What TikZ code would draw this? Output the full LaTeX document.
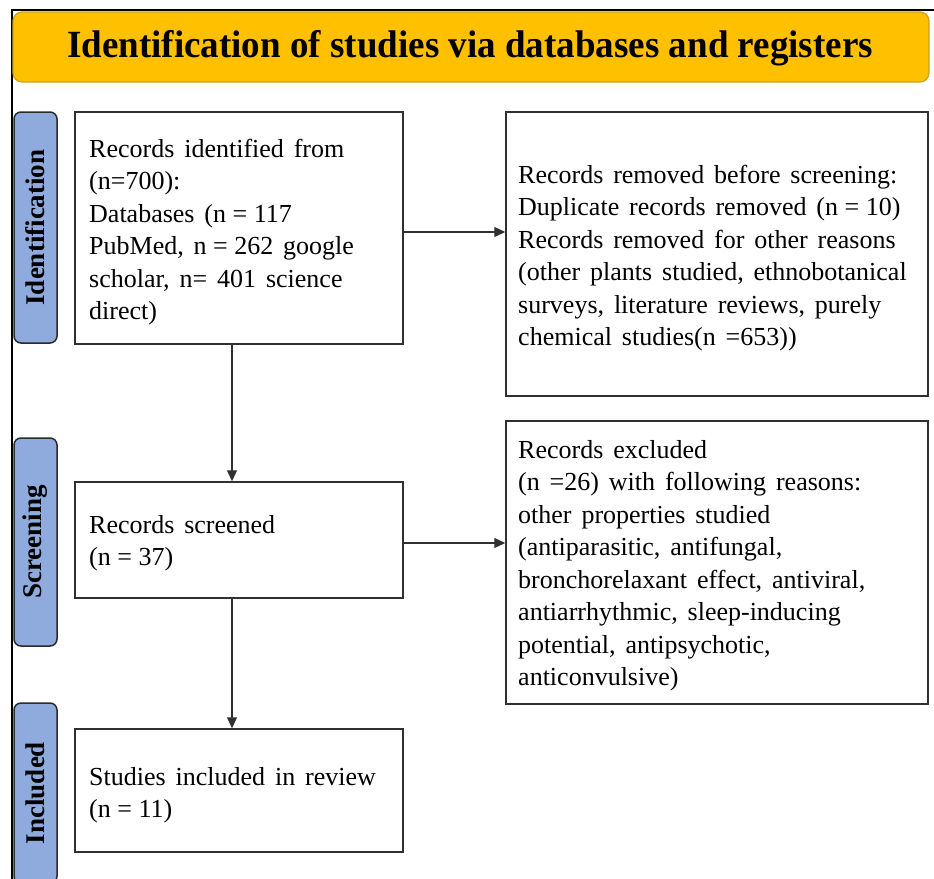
\documentclass[tikz,border=0pt]{standalone}
\usepackage{fontspec}
\setmainfont{Liberation Serif}
\usetikzlibrary{arrows.meta}
\definecolor{gold}{HTML}{FFC000}
\definecolor{golddraw}{HTML}{C9A227}
\definecolor{lblue}{HTML}{8FAADC}
\definecolor{bluedraw}{HTML}{2A2A2A}
\definecolor{boxline}{HTML}{303030}
\newcommand\myBodyFont{\fontsize{26}{32.5}\selectfont\setlength{\spaceskip}{0.38em}}
\newcommand\myEq{\hspace{0.25em}=\hspace{0.25em}}
\begin{document}
\begin{tikzpicture}[x=1pt,y=-1pt,
  banner/.style={draw=golddraw, fill=gold, line width=1.2pt, rounded corners=9pt, minimum width=916pt, minimum height=70pt, inner sep=0pt},
  phase/.style={draw=bluedraw, fill=lblue, line width=1.5pt, rounded corners=7pt, minimum height=43pt, inner sep=0pt, rotate=90, font=\fontsize{27}{30}\selectfont\bfseries},
  box/.style={draw=boxline, line width=1.5pt, inner sep=0pt},
  txt/.style={anchor=base west, align=left, inner sep=0pt, font=\myBodyFont},
  arr/.style={draw=boxline, line width=1.1pt, -{Triangle[length=11pt,width=10pt]}}
]
\useasboundingbox (0,0) rectangle (934,878);
\clip (0,0) rectangle (934,878);
\fill[white] (0,0) rectangle (934,878);
\draw[line width=2pt] (12,880) -- (12,10) -- (936,10);
\node[banner] (ban) at (471,47) {};
\node[anchor=base, inner sep=0pt, font=\fontsize{38.5}{40}\selectfont\bfseries] (title) at (470,57) {\scalebox{0.962}[1]{Identification of studies via databases and registers}};

\node[phase, minimum width=231pt] (pid) at (35.5,227.5) {Identification};
\node[phase, minimum width=208pt] (psc) at (35.5,542) {Screening};
\node[phase, minimum width=180pt] (pin) at (35.5,793) {Included};

\node[box, minimum width=328pt, minimum height=232pt] (b1) at (239,228) {};
\node[box, minimum width=422pt, minimum height=284pt] (b2) at (717,254) {};
\node[box, minimum width=328pt, minimum height=116pt] (b3) at (239,540) {};
\node[box, minimum width=422pt, minimum height=283pt] (b4) at (717,562.5) {};
\node[box, minimum width=328pt, minimum height=123pt] (b5) at (239,790.5) {};

\node[txt] (t1) at (89,319.5) {Records identified from\\(n=700):\\Databases (n\myEq 117\\PubMed, n\myEq 262 google\\scholar, n= 401 science\\direct)};
\node[txt] (t2) at (518,345.5) {Records removed before screening:\\Duplicate records removed (n\myEq 10)\\Records removed for other reasons\\(other plants studied, ethnobotanical\\surveys, literature reviews, purely\\chemical studies(n =653))};
\node[txt] (t3) at (89,565.5) {Records screened\\(n\myEq 37)};
\node[txt] (t4) at (518,685.5) {Records excluded\\(n =26) with following reasons:\\other properties studied\\(antiparasitic, antifungal,\\bronchorelaxant effect, antiviral,\\antiarrhythmic, sleep-inducing\\potential, antipsychotic,\\anticonvulsive)};
\node[txt] (t5) at (89,817.5) {Studies included in review\\(n\myEq 11)};

\draw[arr] ([xshift=-7pt]b1.south) -- ([xshift=-7pt]b3.north);
\draw[arr] ([xshift=-7pt]b3.south) -- ([xshift=-7pt]b5.north);
\draw[arr] ([yshift=-4pt]b1.east) -- ([yshift=-4pt]b1.east -| b2.west);
\draw[arr] ([yshift=-3pt]b3.east) -- ([yshift=-3pt]b3.east -| b4.west);
\end{tikzpicture}
\end{document}
